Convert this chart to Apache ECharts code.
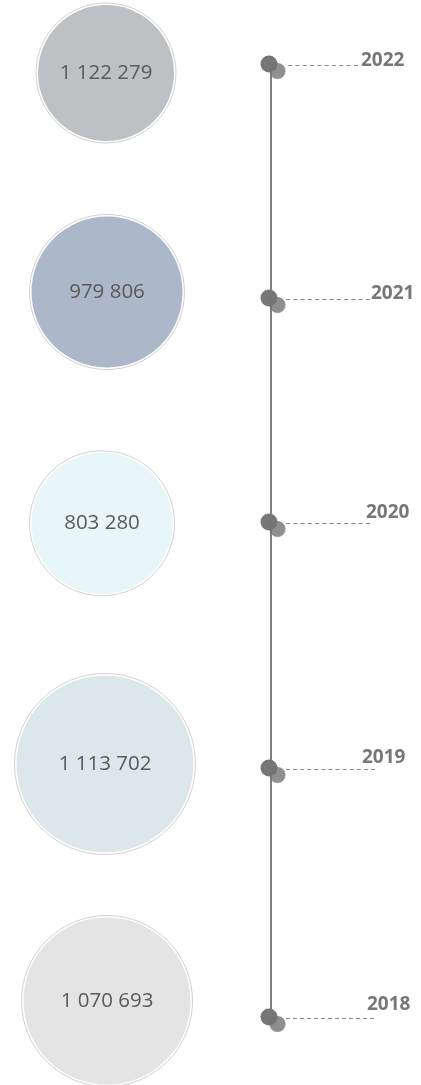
<!DOCTYPE html>
<html>
<head>
<meta charset="utf-8">
<script src="https://cdn.jsdelivr.net/npm/echarts@6/dist/echarts.min.js"></script>
<style>
html,body{margin:0;padding:0;background:#fff;}
#chart{width:421px;height:1085px;}
</style>
</head>
<body>
<div id="chart"></div>
<script>
// ---- data ----
const years = ['2022', '2021', '2020', '2019', '2018'];
const values = [1122279, 979806, 803280, 1113702, 1070693];

// ---- layout / style (not data) ----
const bubbleColors = ['#bec1c4', '#acb8ca', '#e9f6f8', '#dce7e9', '#e4e4e4'];
const bubbleSize = [141, 156, 146, 182, 172];
const bubbleShift = [[1, 7], [2, -12], [-3, -18.7], [0, -16], [2, -17]];
const dotShiftY = [-2, -6, -20, -12, -1];
const dashSpan = [[17, 87], [15, 99], [15, 99], [15, 104], [15, 103]];
const labelShift = [[90, -5.3], [100, -10], [95, -29.7], [91, -22], [96, -13]];

function fmt(v) {
  return String(v).replace(/\B(?=(\d{3})+(?!\d))/g, ' ');
}
function dashPath(len) {
  let p = '';
  const d = 4, g = 3;
  for (let x = 0; x < len; x += d + g) {
    const w = Math.min(d, len - x);
    p += 'M' + x + ',0h' + w + 'v1h-' + w + 'z';
  }
  return 'path://' + p;
}

const chart = echarts.init(document.getElementById('chart'), null, {renderer: 'canvas'});

const ringData = years.map((y, i) => ({
  value: ['bubble', y],
  symbolSize: bubbleSize[i] - 1,
  symbolOffset: bubbleShift[i]
}));
const fillData = years.map((y, i) => ({
  value: ['bubble', y, values[i]],
  symbolSize: bubbleSize[i] - 5,
  symbolOffset: bubbleShift[i],
  itemStyle: {color: bubbleColors[i], opacity: 1}
}));
const dashData = years.map((y, i) => {
  const len = dashSpan[i][1] - dashSpan[i][0];
  return {
    value: ['timeline', y],
    symbol: dashPath(len),
    symbolSize: [len, 1],
    symbolOffset: [(dashSpan[i][0] + dashSpan[i][1]) / 2, dotShiftY[i] + 1.5]
  };
});
const darkDots = years.map((y, i) => ({
  value: ['timeline', y],
  symbolOffset: [-2, dotShiftY[i]]
}));
const lightDots = years.map((y, i) => ({
  value: ['timeline', y],
  symbolOffset: [6.5, dotShiftY[i] + 7]
}));
const yearLabels = years.map((y, i) => ({
  value: ['timeline', y],
  label: {offset: labelShift[i]}
}));

chart.setOption({
  animation: false,
  backgroundColor: '#ffffff',
  grid: {left: 105, right: 150, top: 66, bottom: 67},
  xAxis: {
    type: 'category', data: ['bubble', 'timeline'], boundaryGap: false,
    show: false
  },
  yAxis: {
    type: 'category', data: years, boundaryGap: false, inverse: true,
    show: false
  },
  series: [
    {
      type: 'line', z: 1,
      data: [['timeline', years[0]], ['timeline', years[years.length - 1]]],
      showSymbol: false, symbol: 'none',
      lineStyle: {color: '#808080', width: 2}
    },
    {
      type: 'scatter', z: 2, symbol: 'circle', data: ringData,
      itemStyle: {color: '#ffffff', borderColor: '#d2d2d2', borderWidth: 1, opacity: 1}
    },
    {
      type: 'scatter', z: 3, symbol: 'circle', data: fillData,
      itemStyle: {opacity: 1},
      label: {
        show: true, position: 'inside',
        formatter: p => fmt(p.value[2]),
        fontFamily: 'Open Sans', fontWeight: 'normal', fontSize: 20.5, color: '#5a5a5a'
      }
    },
    {
      type: 'scatter', z: 2, data: dashData,
      itemStyle: {color: '#8a8a8a', opacity: 1}
    },
    {
      type: 'scatter', z: 3, symbol: 'circle', symbolSize: 17, data: darkDots,
      itemStyle: {color: '#767676', opacity: 1}
    },
    {
      type: 'scatter', z: 4, symbol: 'circle', symbolSize: 16, data: lightDots,
      itemStyle: {color: 'rgba(115,115,115,0.8)', opacity: 1}
    },
    {
      type: 'scatter', z: 5, symbol: 'circle', symbolSize: 0, data: yearLabels,
      itemStyle: {color: 'rgba(0,0,0,0)', opacity: 1},
      label: {
        show: true, position: 'inside', align: 'left', verticalAlign: 'middle',
        formatter: p => p.value[1],
        fontFamily: 'Open Sans', fontWeight: 'bold', fontSize: 19, color: '#777777'
      }
    }
  ]
});
</script>
</body>
</html>
